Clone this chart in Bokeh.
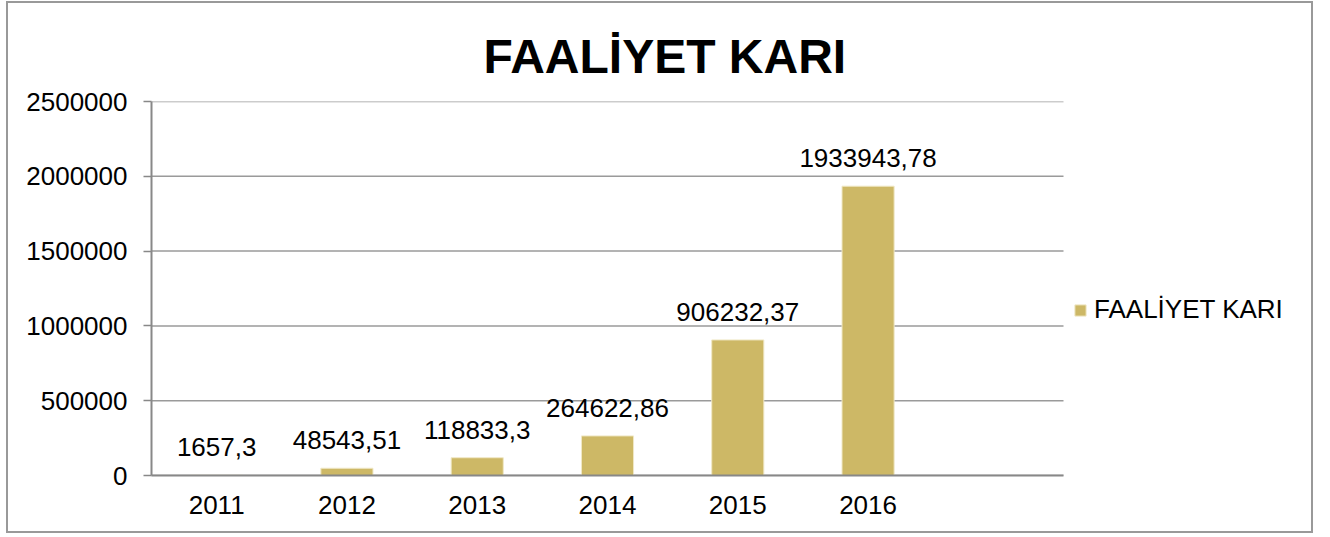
from bokeh.plotting import figure
from bokeh.models import ColumnDataSource, Range1d, FixedTicker, Legend, LegendItem
from bokeh.embed import file_html
from bokeh.resources import INLINE
from bokeh.core.properties import value

# ---- data ----
years = ["2011", "2012", "2013", "2014", "2015", "2016"]
faaliyet_kari = [1657.3, 48543.51, 118833.3, 264622.86, 906232.37, 1933943.78]
y_ticks = [0, 500000, 1000000, 1500000, 2000000, 2500000]
series_name = "FAALİYET KARI"
title_text = "FAALİYET KARI"

FONT = "Liberation Sans"
xs = list(range(1, len(years) + 1))
labels = [str(v).replace(".", ",") for v in faaliyet_kari]
src = ColumnDataSource(dict(x=xs, top=faaliyet_kari, label=labels))

# category area: len(years)+1 slots (last one empty), plot area continues for legend
n_slots = len(years) + 1
x_lo, x_hi = 0.5, 0.5 + n_slots
W, H = 1307, 532
left_b = 143
frame_w = W - left_b
slot_px = 912 / n_slots
x_max = x_lo + frame_w / slot_px

p = figure(width=W, height=H, output_backend="svg", toolbar_location=None,
           x_range=Range1d(x_lo, x_max), y_range=Range1d(0, y_ticks[-1]),
           min_border_left=left_b, min_border_right=0, min_border_top=98,
           min_border_bottom=60)
p.styles = {"border": "2px solid #999999", "margin-left": "6px", "margin-top": "1px"}
p.outline_line_color = None
p.background_fill_color = "white"
p.border_fill_color = "white"

p.title.text = title_text
p.title.text_font = FONT
p.title.text_font_style = "bold"
p.title.text_font_size = "48px"
p.title.text_color = "black"
p.title.align = "left"
p.title.offset = 332
p.title.standoff = 38

p.xgrid.visible = False
p.ygrid.visible = False
p.segment(x0=x_lo, x1=x_hi, y0=y_ticks, y1=y_ticks, line_color="#9a9a9a",
          line_width=1.5, level="underlay")

ya = p.yaxis[0]
ya.ticker = FixedTicker(ticks=y_ticks)
ya.major_label_overrides = {t: str(t) for t in y_ticks}
ya.axis_line_color = "#888888"
ya.axis_line_width = 2
ya.major_tick_out = 8
ya.major_tick_in = 0
ya.minor_tick_out = 0
ya.minor_tick_in = 0
ya.major_tick_line_color = "#888888"
ya.major_tick_line_width = 1.5
ya.major_label_standoff = 16
ya.major_label_text_font = FONT
ya.major_label_text_font_size = "26px"
ya.major_label_text_color = "black"

xa = p.xaxis[0]
xa.ticker = FixedTicker(ticks=xs)
xa.bounds = (x_lo, x_hi)
xa.major_label_overrides = {x: y for x, y in zip(xs, years)}
xa.axis_line_color = "#888888"
xa.axis_line_width = 2
xa.major_tick_out = 0
xa.major_tick_in = 0
xa.minor_tick_out = 0
xa.minor_tick_in = 0
xa.major_label_standoff = 20
xa.major_label_text_font = FONT
xa.major_label_text_font_size = "26px"
xa.major_label_text_color = "black"

bars = p.vbar(x="x", top="top", bottom=0, width=0.4, source=src,
              fill_color="#CDB866", line_color="#F0E8C6", line_width=1)

p.text(x="x", y="top", text="label", source=src, text_align="center",
       text_baseline="alphabetic", y_offset=-28, text_font=value(FONT),
       text_font_size="26px", text_color="black")

legend = Legend(items=[LegendItem(label=series_name, renderers=[bars])],
                location=(922, 150), glyph_width=14, glyph_height=14,
                label_standoff=7, padding=0, margin=0, spacing=0,
                border_line_color=None, background_fill_alpha=0,
                label_text_font=FONT, label_text_font_size="26px",
                label_text_color="black")
p.add_layout(legend)

open("out.html", "w").write(file_html(p, INLINE))
